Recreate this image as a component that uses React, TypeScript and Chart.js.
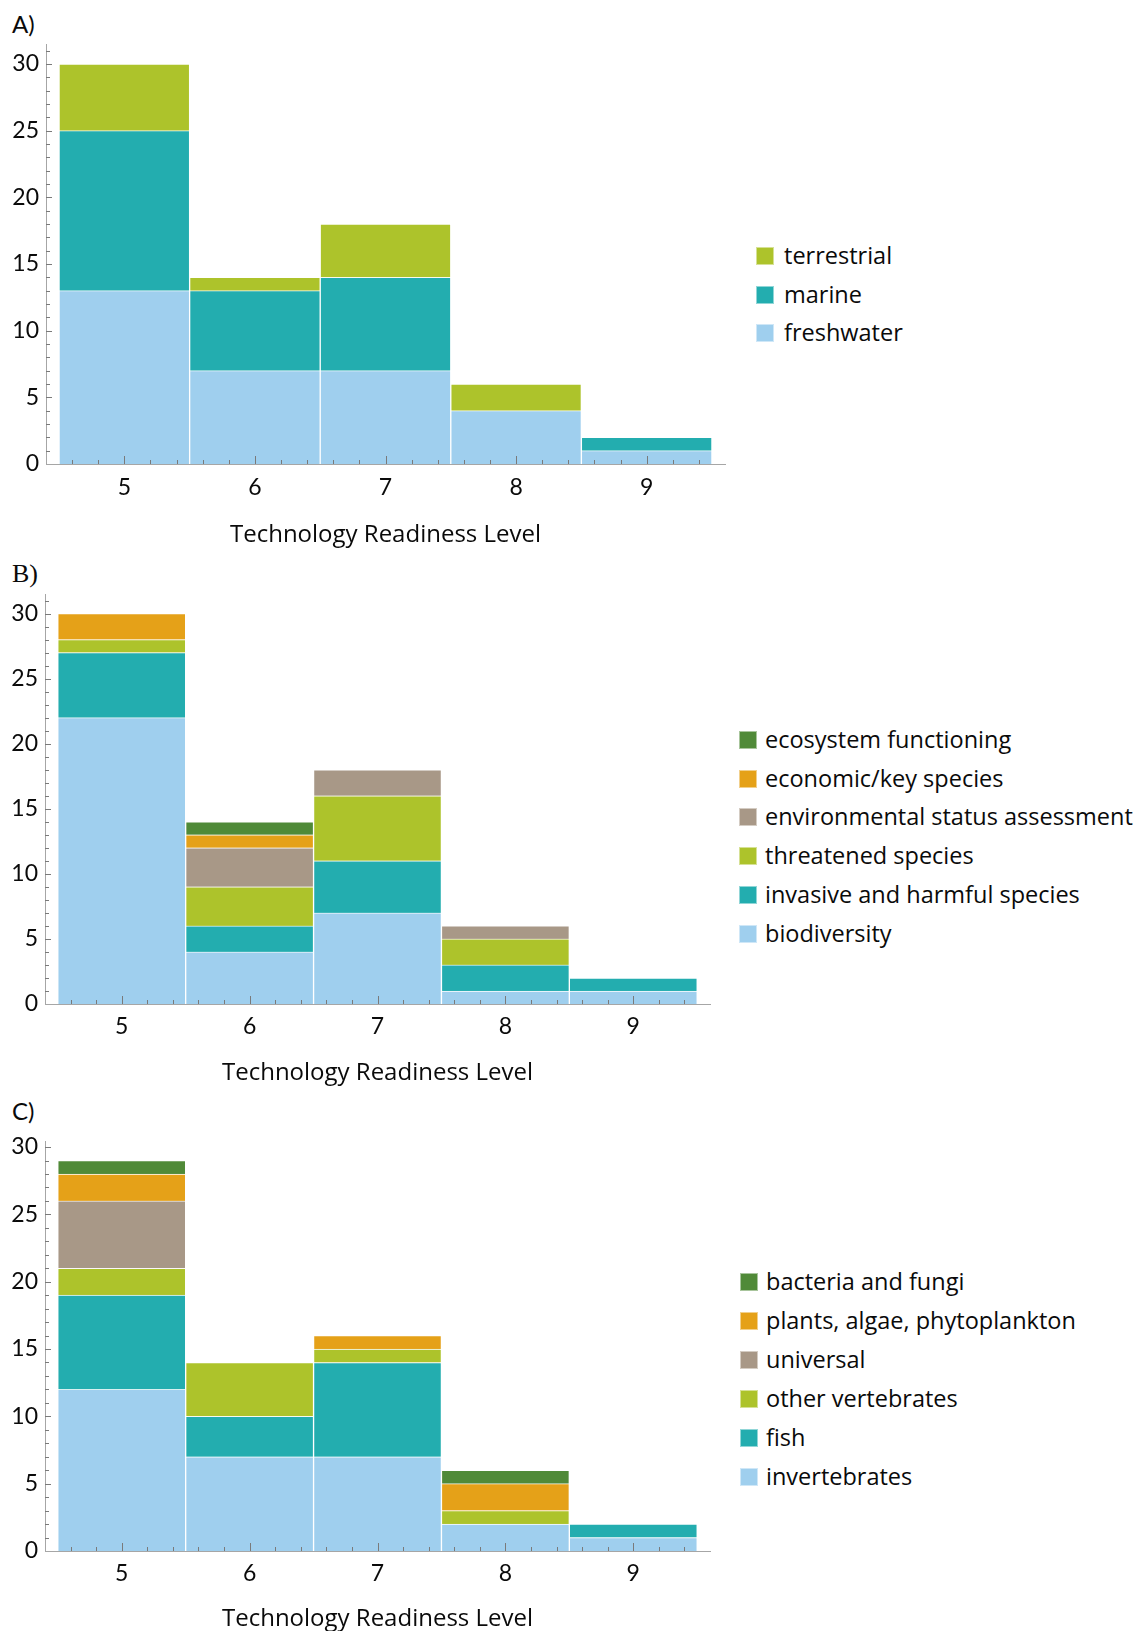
import React, { useEffect, useRef } from 'react';
import { Chart, registerables } from 'chart.js';

Chart.register(...registerables);

// ---------- data ----------
const TRL = [5, 6, 7, 8, 9];
const Y_TICKS = [0, 5, 10, 15, 20, 25, 30];
const X_TITLE = 'Technology Readiness Level';

// Panel A (habitat)
const A_FRESHWATER = [13, 7, 7, 4, 1];
const A_MARINE = [12, 6, 7, 0, 1];
const A_TERRESTRIAL = [5, 1, 4, 2, 0];

// Panel B (application)
const B_BIODIVERSITY = [22, 4, 7, 1, 1];
const B_INVASIVE = [5, 2, 4, 2, 1];
const B_THREATENED = [1, 3, 5, 2, 0];
const B_ENV_STATUS = [0, 3, 2, 1, 0];
const B_ECONOMIC = [2, 1, 0, 0, 0];
const B_ECOSYSTEM = [0, 1, 0, 0, 0];

// Panel C (taxon)
const C_INVERTEBRATES = [12, 7, 7, 2, 1];
const C_FISH = [7, 3, 7, 0, 1];
const C_OTHER_VERT = [2, 4, 1, 1, 0];
const C_UNIVERSAL = [5, 0, 0, 0, 0];
const C_PLANTS = [2, 0, 1, 2, 0];
const C_BACTERIA = [1, 0, 0, 1, 0];

// ---------- styles ----------
const LIGHT_BLUE = '#9fcfee';
const TEAL = '#23adaf';
const LIME = '#adc32b';
const TAN = '#a89887';
const ORANGE = '#e5a118';
const GREEN = '#508a38';

const NUM_FONT = 'Lato, "Open Sans", sans-serif';
const TEXT_FONT = '"Open Sans", "Noto Sans", sans-serif';
const LEGEND_SIZE = 23.5;
const TITLE_SIZE = 24;
const TEXT_COLOR = '#0a0a0a';
const AXIS_COLOR = '#a6a6a6';
const TICK_COLOR = '#7a7a7a';
const X_MIN = 4.4;
const X_MAX = 9.6;

type Series = { label: string; color: string; values: number[] };

type Panel = {
  name: string;
  labelText: string;
  labelSerif: boolean;
  labelTop: number;
  series: Series[];
  canvasTop: number;
  canvasHeight: number;
  canvasWidth: number;
  plot: { left: number; right: number; top: number; bottom: number };
  yMax: number;
  tickGap: number;
  titleY: number;
  legend: { boxLeft: number; textLeft: number; firstRow: number; rowStep: number };
};

const PANELS: Panel[] = [
  {
    name: 'A',
    labelText: 'A)',
    labelSerif: false,
    labelTop: 24,
    series: [
      { label: 'freshwater', color: LIGHT_BLUE, values: A_FRESHWATER },
      { label: 'marine', color: TEAL, values: A_MARINE },
      { label: 'terrestrial', color: LIME, values: A_TERRESTRIAL },
    ],
    canvasTop: 0,
    canvasHeight: 552,
    canvasWidth: 745,
    plot: { left: 46, right: 725, top: 44, bottom: 464 },
    yMax: 31.5,
    tickGap: 24,
    titleY: 535,
    legend: { boxLeft: 756, textLeft: 784, firstRow: 256, rowStep: 38.5 },
  },
  {
    name: 'B',
    labelText: 'B)',
    labelSerif: true,
    labelTop: 574,
    series: [
      { label: 'biodiversity', color: LIGHT_BLUE, values: B_BIODIVERSITY },
      { label: 'invasive and harmful species', color: TEAL, values: B_INVASIVE },
      { label: 'threatened species', color: LIME, values: B_THREATENED },
      { label: 'environmental status assessment', color: TAN, values: B_ENV_STATUS },
      { label: 'economic/key species', color: ORANGE, values: B_ECONOMIC },
      { label: 'ecosystem functioning', color: GREEN, values: B_ECOSYSTEM },
    ],
    canvasTop: 556,
    canvasHeight: 532,
    canvasWidth: 730,
    plot: { left: 45, right: 710, top: 594, bottom: 1004 },
    yMax: 31.5,
    tickGap: 23,
    titleY: 1073,
    legend: { boxLeft: 739, textLeft: 765, firstRow: 740, rowStep: 38.7 },
  },
  {
    name: 'C',
    labelText: 'C)',
    labelSerif: false,
    labelTop: 1111,
    series: [
      { label: 'invertebrates', color: LIGHT_BLUE, values: C_INVERTEBRATES },
      { label: 'fish', color: TEAL, values: C_FISH },
      { label: 'other vertebrates', color: LIME, values: C_OTHER_VERT },
      { label: 'universal', color: TAN, values: C_UNIVERSAL },
      { label: 'plants, algae, phytoplankton', color: ORANGE, values: C_PLANTS },
      { label: 'bacteria and fungi', color: GREEN, values: C_BACTERIA },
    ],
    canvasTop: 1094,
    canvasHeight: 537,
    canvasWidth: 730,
    plot: { left: 45, right: 710, top: 1141, bottom: 1551 },
    yMax: 30.45,
    tickGap: 23,
    titleY: 1619,
    legend: { boxLeft: 740, textLeft: 766, firstRow: 1282, rowStep: 38.9 },
  },
];

const innerTicks = {
  id: 'innerTicks',
  afterDatasetsDraw(chart: any) {
    const { ctx, chartArea, scales } = chart;
    const x = scales.x;
    const y = scales.y;
    ctx.save();
    ctx.strokeStyle = TICK_COLOR;
    ctx.lineWidth = 1;
    ctx.beginPath();
    for (let v = 1; v <= Math.floor(y.max); v += 1) {
      const py = Math.round(y.getPixelForValue(v)) + 0.5;
      const len = v % 5 === 0 ? 6 : 4;
      ctx.moveTo(chartArea.left, py);
      ctx.lineTo(chartArea.left + len, py);
    }
    for (let k = Math.ceil(x.min * 5); k <= Math.floor(x.max * 5); k++) {
      const px = Math.round(x.getPixelForValue(k / 5)) + 0.5;
      if (px < chartArea.left + 3 || px > chartArea.right - 3) continue;
      const len = k % 5 === 0 ? 8 : 4;
      ctx.moveTo(px, chartArea.bottom);
      ctx.lineTo(px, chartArea.bottom - len);
    }
    ctx.stroke();
    ctx.restore();
  },
};

function PanelChart({ panel }: { panel: Panel }) {
  const ref = useRef<HTMLCanvasElement>(null);
  useEffect(() => {
    const p = panel;
    const axisHeight = p.canvasTop + p.canvasHeight - p.plot.bottom;
    const titleHalf = TITLE_SIZE / 2;
    const chart = new Chart(ref.current as HTMLCanvasElement, {
      type: 'bar',
      data: {
        datasets: p.series.map((s) => ({
          label: s.label,
          data: TRL.map((t, i) => ({ x: t, y: s.values[i] === 0 ? null : s.values[i] })),
          backgroundColor: s.color,
          borderColor: 'rgba(255,255,255,0.55)',
          borderWidth: 1,
          categoryPercentage: 1,
          barPercentage: 1,
        })),
      } as any,
      options: {
        responsive: false,
        animation: false,
        devicePixelRatio: 1,
        events: [],
        layout: {
          padding: {
            left: 0,
            top: p.plot.top - p.canvasTop,
            right: p.canvasWidth - p.plot.right,
            bottom: 0,
          },
        },
        plugins: {
          legend: { display: false },
          tooltip: { enabled: false },
          title: { display: false },
        },
        scales: {
          x: {
            type: 'linear',
            min: X_MIN,
            max: X_MAX,
            stacked: true,
            offset: false,
            afterBuildTicks: (s: any) => {
              s.ticks = TRL.map((v) => ({ value: v }));
            },
            afterFit: (s: any) => {
              s.height = axisHeight;
            },
            grid: { display: false, drawTicks: false },
            border: { display: true, color: AXIS_COLOR, width: 1 },
            ticks: {
              color: TEXT_COLOR,
              font: { family: NUM_FONT, size: 23, lineHeight: 1.2 },
              padding: p.tickGap - 13.8,
              autoSkip: false,
              maxRotation: 0,
              callback: (v: any) => String(v),
            },
            title: {
              display: true,
              text: X_TITLE,
              color: TEXT_COLOR,
              font: { family: TEXT_FONT, size: TITLE_SIZE, lineHeight: 1 },
              padding: { top: 0, bottom: Math.max(0, p.canvasTop + p.canvasHeight - p.titleY - titleHalf) },
            },
          },
          y: {
            type: 'linear',
            min: 0,
            max: p.yMax,
            stacked: true,
            afterBuildTicks: (s: any) => {
              s.ticks = Y_TICKS.map((v) => ({ value: v }));
            },
            afterFit: (s: any) => {
              s.width = p.plot.left;
            },
            grid: { display: false, drawTicks: false },
            border: { display: true, color: AXIS_COLOR, width: 1 },
            ticks: {
              color: TEXT_COLOR,
              font: { family: NUM_FONT, size: 23 },
              padding: 7,
              callback: (v: any) => String(v),
            },
          },
        },
      } as any,
      plugins: [innerTicks],
    });
    return () => chart.destroy();
  }, [panel]);

  return (
    <canvas
      ref={ref}
      width={panel.canvasWidth}
      height={panel.canvasHeight}
      style={{
        position: 'absolute',
        left: 0,
        top: panel.canvasTop,
        width: panel.canvasWidth,
        height: panel.canvasHeight,
      }}
    />
  );
}

function Legend({ panel }: { panel: Panel }) {
  const items = [...panel.series].reverse();
  return (
    <>
      {items.map((s, i) => {
        const cy = panel.legend.firstRow + i * panel.legend.rowStep;
        return (
          <div key={s.label}>
            <div
              style={{
                position: 'absolute',
                left: panel.legend.boxLeft,
                top: cy - 9,
                width: 18,
                height: 18,
                background: s.color,
                boxSizing: 'border-box',
                border: '1px solid rgba(255,255,255,0.5)',
              }}
            />
            <div
              style={{
                position: 'absolute',
                left: panel.legend.textLeft,
                top: cy - 16,
                height: 30,
                lineHeight: '30px',
                fontFamily: TEXT_FONT,
                fontSize: LEGEND_SIZE,
                color: TEXT_COLOR,
                whiteSpace: 'nowrap',
              }}
            >
              {s.label}
            </div>
          </div>
        );
      })}
    </>
  );
}

export default function App() {
  return (
    <div
      style={{
        position: 'fixed',
        left: 0,
        top: 0,
        width: 1135,
        height: 1631,
        overflow: 'hidden',
        background: '#fff',
      }}
    >
      {PANELS.map((p) => (
        <React.Fragment key={p.name}>
          <div
            style={{
              position: 'absolute',
              left: 12,
              top: p.labelTop - 15,
              height: 30,
              lineHeight: '30px',
              fontFamily: p.labelSerif ? '"Liberation Serif", "DejaVu Serif", serif' : NUM_FONT,
              fontSize: p.labelSerif ? 26 : 24,
              color: TEXT_COLOR,
            }}
          >
            {p.labelText}
          </div>
          <PanelChart panel={p} />
          <Legend panel={p} />
        </React.Fragment>
      ))}
    </div>
  );
}
